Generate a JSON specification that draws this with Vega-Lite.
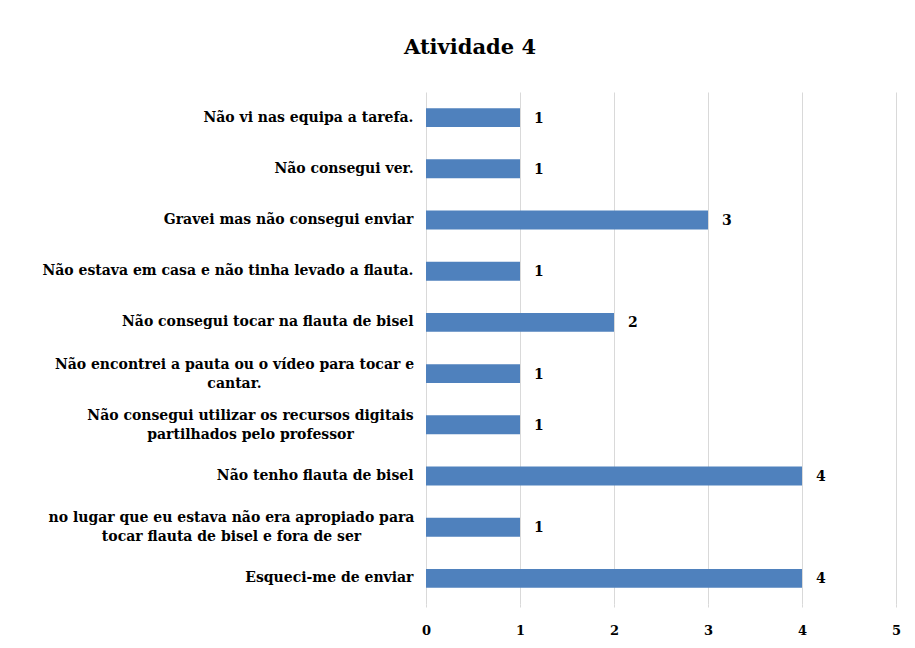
{
  "$schema": "https://vega.github.io/schema/vega-lite/v6.json",
  "autosize": "none",
  "width": 470,
  "height": 512,
  "padding": {"left": 426, "top": 92, "right": 19, "bottom": 44},
  "background": "white",
  "title": {
    "text": "Atividade 4",
    "font": "DejaVu Serif",
    "fontSize": 21,
    "fontWeight": "bold",
    "color": "#000000",
    "anchor": "middle",
    "dx": -191,
    "offset": 34
  },
  "config": {
    "view": {"stroke": null},
    "font": "DejaVu Serif"
  },
  "data": {
    "values": [
      {"motivo": "Não vi nas equipa a tarefa.", "n": 1, "ord": 1},
      {"motivo": "Não consegui ver.", "n": 1, "ord": 2},
      {"motivo": "Gravei mas não consegui enviar", "n": 3, "ord": 3},
      {"motivo": "Não estava em casa e não tinha levado a flauta.", "n": 1, "ord": 4},
      {"motivo": "Não consegui tocar na flauta de bisel", "n": 2, "ord": 5},
      {"motivo": "Não encontrei a pauta ou o vídeo para tocar e cantar.", "n": 1, "ord": 6},
      {"motivo": "Não consegui utilizar os recursos digitais partilhados pelo professor", "n": 1, "ord": 7},
      {"motivo": "Não tenho flauta de bisel", "n": 4, "ord": 8},
      {"motivo": "no lugar que eu estava não era apropiado para tocar flauta de bisel e fora de ser", "n": 1, "ord": 9},
      {"motivo": "Esqueci-me de enviar", "n": 4, "ord": 10}
    ]
  },
  "encoding": {
    "y": {
      "field": "motivo",
      "type": "nominal",
      "sort": {"field": "ord", "order": "ascending"},
      "scale": {"paddingInner": 0.63, "paddingOuter": 0.315},
      "axis": {
        "title": null,
        "domain": false,
        "ticks": false,
        "labelFont": "DejaVu Serif",
        "labelFontSize": 14,
        "labelFontWeight": "bold",
        "labelColor": "#000000",
        "labelLimit": 420,
        "labelLineHeight": 19,
        "labelAlign": {
          "condition": {"test": "indexof(datum.value, 'cantar.') >= 0 || indexof(datum.value, 'partilhados') >= 0 || indexof(datum.value, 'apropiado') >= 0", "value": "center"},
          "value": "right"
        },
        "labelOffset": {
          "condition": {"test": "indexof(datum.value, 'cantar.') >= 0 || indexof(datum.value, 'partilhados') >= 0 || indexof(datum.value, 'apropiado') >= 0", "value": -9},
          "value": 0
        },
        "labelPadding": {
          "condition": [
            {"test": "indexof(datum.value, 'cantar.') >= 0", "value": 192},
            {"test": "indexof(datum.value, 'partilhados') >= 0", "value": 176},
            {"test": "indexof(datum.value, 'apropiado') >= 0", "value": 195}
          ],
          "value": 13
        },
        "labelExpr": "datum.value == 'Não encontrei a pauta ou o vídeo para tocar e cantar.' ? ['Não encontrei a pauta ou o vídeo para tocar e', 'cantar.'] : datum.value == 'Não consegui utilizar os recursos digitais partilhados pelo professor' ? ['Não consegui utilizar os recursos digitais', 'partilhados pelo professor'] : datum.value == 'no lugar que eu estava não era apropiado para tocar flauta de bisel e fora de ser' ? ['no lugar que eu estava não era apropiado para', 'tocar flauta de bisel e fora de ser'] : datum.value"
      }
    },
    "x": {
      "field": "n",
      "type": "quantitative",
      "scale": {"domain": [0, 5], "nice": false},
      "axis": {
        "title": null,
        "domain": false,
        "values": [0, 1, 2, 3, 4, 5],
        "labelOverlap": false,
        "labelFlush": false,
        "ticks": true,
        "tickSize": 3,
        "tickColor": "#d9d9d9",
        "grid": true,
        "gridColor": "#d9d9d9",
        "gridWidth": 1,
        "labelFont": "DejaVu Serif",
        "labelFontSize": 13,
        "labelFontWeight": "bold",
        "labelColor": "#000000",
        "labelPadding": 17
      }
    }
  },
  "layer": [
    {
      "mark": {"type": "bar", "color": "#4F81BD"}
    },
    {
      "mark": {
        "type": "text",
        "align": "left",
        "baseline": "middle",
        "dx": 14,
        "dy": 1,
        "font": "DejaVu Serif",
        "fontSize": 14,
        "fontWeight": "bold",
        "color": "#000000"
      },
      "encoding": {"text": {"field": "n", "type": "quantitative"}}
    }
  ]
}
